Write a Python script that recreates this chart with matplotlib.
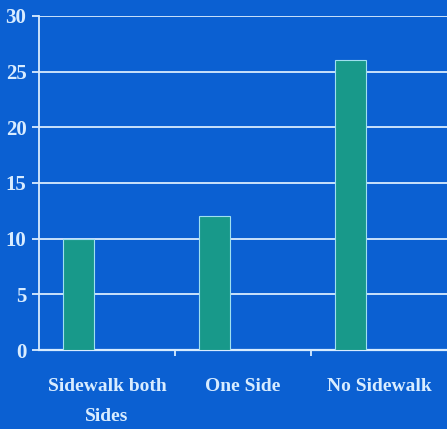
import matplotlib
matplotlib.use("Agg")
import matplotlib.pyplot as plt
import numpy as np

categorias = ["Sidewalk both\nSides", "One Side", "No Sidewalk"]
valores = [10, 12, 26]
yticks = [0, 5, 10, 15, 20, 25, 30]

FUNDO = "#0b60d2"
BARRA = "#18998a"
CLARO = "#d8ecff"

fig = plt.figure(figsize=(4.47, 4.29), dpi=100)
fig.patch.set_facecolor(FUNDO)
ax = fig.add_axes([0.087, 0.184, 0.913, 0.779])
ax.set_facecolor(FUNDO)

x = np.arange(len(categorias))
ax.bar(x - 0.21, valores, 0.23, color=BARRA, edgecolor="#9fe0f0", linewidth=0.8, zorder=3)

ax.set_ylim(0, 30)
ax.set_xlim(-0.5, 2.5)
ax.set_yticks(yticks)
ax.set_xticks([0.5, 1.5])
ax.set_xticklabels([])
for i, c in enumerate(categorias):
    ax.text(i, -2.55, c, ha="center", va="top", color=CLARO,
            fontsize=14, fontweight="bold", family="Liberation Serif",
            linespacing=2.0, clip_on=False)

ax.grid(axis="y", color=CLARO, linewidth=1.3, zorder=1)
ax.tick_params(axis="y", colors=CLARO, length=5, width=1.3, labelsize=15, pad=4)
ax.tick_params(axis="x", colors=CLARO, length=4, width=1.3)
for lab in ax.get_yticklabels():
    lab.set_fontweight("bold")
    lab.set_family("Liberation Serif")

for s in ["top", "right"]:
    ax.spines[s].set_visible(False)
ax.spines["left"].set_color(CLARO)
ax.spines["left"].set_linewidth(1.3)
ax.spines["bottom"].set_color(CLARO)
ax.spines["bottom"].set_linewidth(1.6)

plt.savefig("out.png", dpi=100, facecolor=FUNDO)
plt.close()
